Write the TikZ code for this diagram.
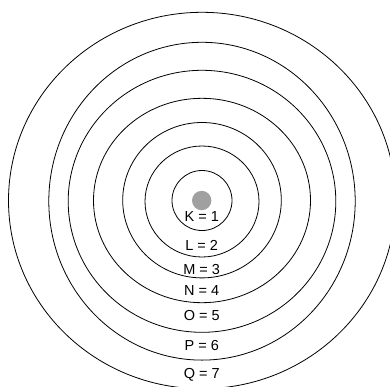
\documentclass[tikz,border=0pt]{standalone}
\usepackage{fontspec}
\setmainfont{Liberation Sans}
\begin{document}
\begin{tikzpicture}[x=1pt,y=-1pt,
  shell/.style={draw=black,line width=0.8pt},
  lbl/.style={font=\fontsize{14.5}{16}\selectfont,inner sep=0pt,anchor=center}]
\useasboundingbox (0,0) rectangle (390,386);
\clip (0,0) rectangle (390,386);
\fill[white] (0,0) rectangle (390,386);
\draw[shell] (202,200.5) ellipse [x radius=30,y radius=30];
\draw[shell] (202,201.5) ellipse [x radius=57,y radius=55.5];
\draw[shell] (202,200.2) ellipse [x radius=79.3,y radius=77.7];
\draw[shell] (202,200.5) ellipse [x radius=108.5,y radius=102.2];
\draw[shell] (202,201.3) ellipse [x radius=133.8,y radius=131];
\draw[shell] (202,201.2) ellipse [x radius=153.2,y radius=158.9];
\draw[shell] (202,200.5) ellipse [x radius=193.5,y radius=188.2];
\fill[fill={rgb,255:red,160;green,160;blue,160}] (201.7,200.5) circle [radius=9.7];
\node[lbl] (k) at (201.7,217) {K = 1};
\node[lbl] (l) at (201.7,245.7) {L = 2};
\node[lbl] (m) at (201.7,269.3) {M = 3};
\node[lbl] (n) at (201.7,290.7) {N = 4};
\node[lbl] (o) at (201.7,316) {O = 5};
\node[lbl] (p) at (201.7,345.3) {P = 6};
\node[lbl] (q) at (201.7,375) {Q = 7};
\end{tikzpicture}
\end{document}
